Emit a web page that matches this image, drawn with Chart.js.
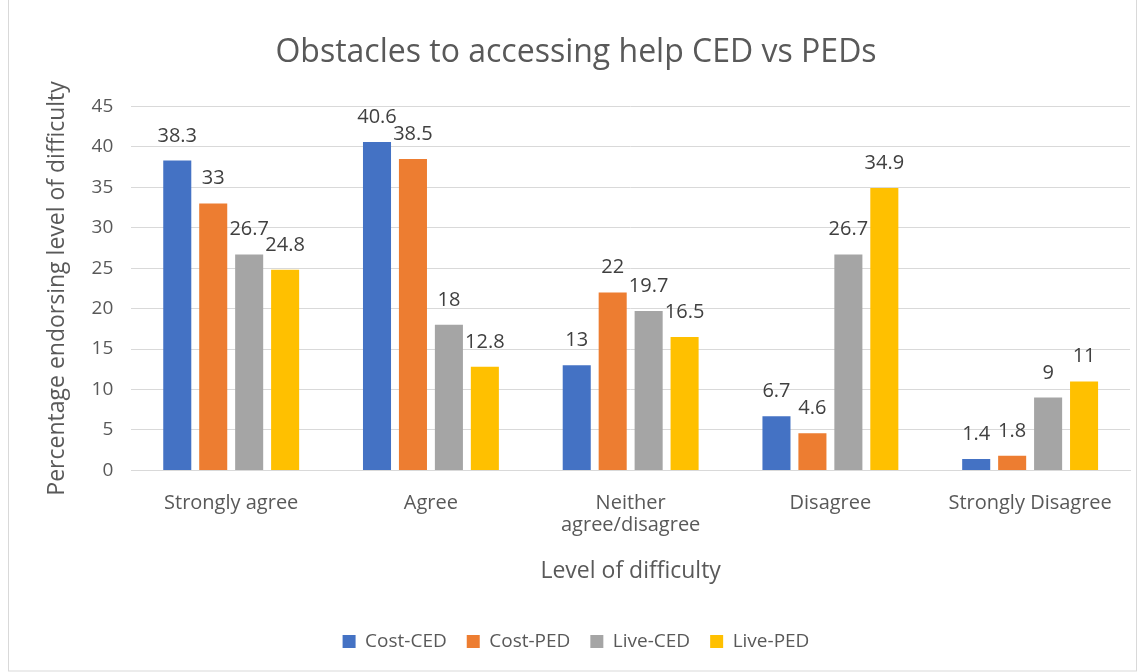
<!DOCTYPE html>
<html>
<head>
<meta charset="utf-8">
<script src="https://cdn.jsdelivr.net/npm/chart.js@4"></script>
<style>
  html, body { margin: 0; padding: 0; background: #fff; }
  #wrap { position: absolute; left: 0; top: 0; width: 1145px; height: 672px; }
</style>
</head>
<body>
<div id="wrap"><canvas id="chart" width="1145" height="672"></canvas></div>
<script>
const categories = ['Strongly agree', 'Agree', ['Neither', 'agree/disagree'], 'Disagree', 'Strongly Disagree']
const costCED = [38.3, 40.6, 13, 6.7, 1.4]
const costPED = [33, 38.5, 22, 4.6, 1.8]
const liveCED = [26.7, 18, 19.7, 26.7, 9]
const livePED = [24.8, 12.8, 16.5, 34.9, 11]

const FONT = "'Open Sans', 'Noto Sans', sans-serif"
const TEXT = '#595959'

// values above the bars, like Excel data labels
const barLabels = {
  id: 'barLabels',
  afterDatasetsDraw(chart) {
    const ctx = chart.ctx
    ctx.save()
    ctx.font = `20px ${FONT}`
    ctx.fillStyle = '#404040'
    ctx.textAlign = 'center'
    ctx.textBaseline = 'alphabetic'
    chart.data.datasets.forEach((ds, i) => {
      chart.getDatasetMeta(i).data.forEach((bar, j) => {
        ctx.fillText(String(ds.data[j]), bar.x, bar.y - 19)
      })
    })
    ctx.restore()
  },
}

const frame = {
  id: 'frame',
  beforeDraw(chart) {
    const ctx = chart.ctx
    ctx.save()
    ctx.fillStyle = '#fff'
    ctx.fillRect(0, 0, chart.width, chart.height)
    ctx.strokeStyle = '#d9d9d9'
    ctx.lineWidth = 1
    ctx.strokeRect(8.5, -1, 1128, chart.height)
    ctx.restore()
  },
}

const bar = (label, data, color) => ({
  label, data, backgroundColor: color, borderWidth: 0,
  categoryPercentage: 0.72, barPercentage: 0.78,
})

new Chart(document.getElementById('chart'), {
  type: 'bar',
  data: {
    labels: categories,
    datasets: [
      bar('Cost-CED', costCED, '#4472c4'),
      bar('Cost-PED', costPED, '#ed7d31'),
      bar('Live-CED', liveCED, '#a5a5a5'),
      bar('Live-PED', livePED, '#ffc000'),
    ],
  },
  options: {
    responsive: false,
    animation: false,
    layout: { padding: { left: 22, right: 15, top: 14, bottom: 11 } },
    plugins: {
      title: {
        display: true,
        text: 'Obstacles to accessing help CED vs PEDs',
        color: TEXT,
        font: { family: FONT, size: 32, weight: 'normal' },
        padding: { top: 20, bottom: 34 },
      },
      legend: {
        position: 'bottom',
        labels: {
          color: TEXT,
          font: { family: FONT, size: 19 },
          boxWidth: 13, boxHeight: 13,
          padding: 20,
        },
      },
      tooltip: { enabled: false },
    },
    scales: {
      x: {
        grid: { display: false },
        border: { color: '#d9d9d9' },
        ticks: { color: TEXT, font: { family: FONT, size: 20, lineHeight: 1.1 }, padding: 14, maxRotation: 0 },
        title: {
          display: true, text: 'Level of difficulty', color: TEXT,
          font: { family: FONT, size: 23 }, padding: { top: 7, bottom: 27 },
        },
      },
      y: {
        min: 0, max: 45,
        ticks: { stepSize: 5, color: TEXT, font: { family: FONT, size: 19 }, padding: 18 },
        grid: { color: '#d9d9d9', drawTicks: false },
        border: { display: false },
        title: {
          display: true, text: 'Percentage endorsing level of difficulty', color: TEXT,
          font: { family: FONT, size: 23 }, padding: { top: 22, bottom: 2 },
        },
      },
    },
  },
  plugins: [frame, barLabels],
})
</script>
</body>
</html>
